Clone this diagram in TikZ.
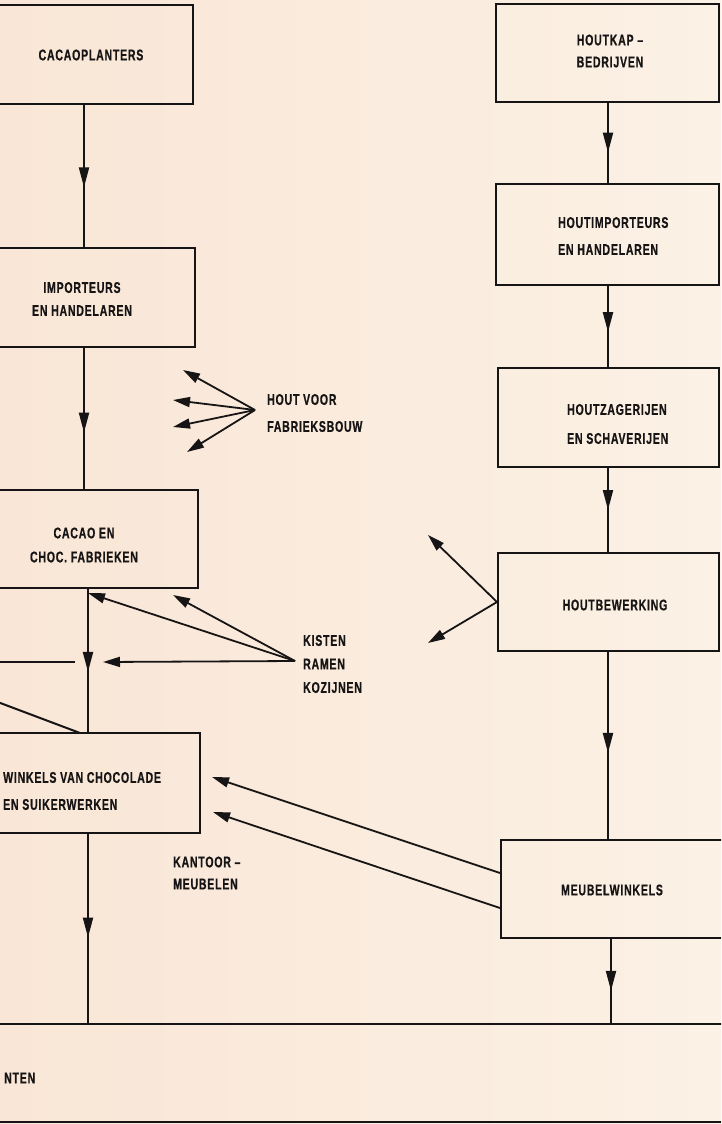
\documentclass[tikz,border=0pt]{standalone}
\usepackage{fontspec}
\newfontfamily\labfont{Liberation Sans}[FakeStretch=0.68, LetterSpace=5, FakeBold=0.6]
\usetikzlibrary{arrows.meta,decorations.markings}
\definecolor{paperL}{RGB}{249,230,214}
\definecolor{paperR}{RGB}{251,241,229}
\definecolor{ink}{RGB}{22,20,20}
\tikzset{
  box/.style={draw=ink, line width=2pt, inner sep=0pt, fill=none},
  lab/.style={inner sep=0pt, text=ink, font=\labfont\bfseries\fontsize{15.5}{24}\selectfont},
  flow/.style={draw=ink, line width=2pt},
  midarrow/.style={postaction={decorate}, decoration={markings,
     mark=at position #1 with {\arrow{Triangle[length=20pt,width=10pt]}}}},
  arr/.style={draw=ink, line width=1.8pt, -{Triangle[length=17pt,width=10pt]}},
}
\begin{document}
\begin{tikzpicture}[x=1pt,y=-1pt]
\shade[left color=paperL, right color=paperR] (0,0) rectangle (721,1124);
\useasboundingbox (0,0) rectangle (721,1124);
\clip (0,0) rectangle (721,1124);

% ---- left column boxes
\node[box, minimum width=293pt, minimum height=99pt] (cp) at (46.5,54.5) {};
\node[box, minimum width=295pt, minimum height=99pt] (imp) at (47.5,297.5) {};
\node[box, minimum width=298pt, minimum height=98pt] (fab) at (49,539) {};
\node[box, minimum width=300pt, minimum height=100pt] (win) at (50,783) {};
% ---- right column boxes
\node[box, minimum width=223pt, minimum height=98pt] (hk) at (607.5,53) {};
\node[box, minimum width=223pt, minimum height=101pt] (hi) at (607.5,234.5) {};
\node[box, minimum width=221pt, minimum height=99pt] (hz) at (608.5,417.5) {};
\node[box, minimum width=221pt, minimum height=98pt] (hb) at (608.5,602) {};
\node[box, minimum width=224pt, minimum height=98pt] (mw) at (613,889) {};

% ---- texts
\node[lab] (tcp) at (91,55) {CACAOPLANTERS};
\node[lab, align=center, font=\labfont\bfseries\fontsize{15.5}{23}\selectfont] (timp) at (82,299) {IMPORTEURS\\EN HANDELAREN};
\node[lab, align=center] (tfab) at (84,545) {CACAO EN\\CHOC. FABRIEKEN};
\node[lab, align=left, anchor=west, font=\labfont\bfseries\fontsize{15.5}{27}\selectfont] (twin) at (3,791) {WINKELS VAN CHOCOLADE\\EN SUIKERWERKEN};
\node[lab, align=center, font=\labfont\bfseries\fontsize{15.5}{22}\selectfont] (thk) at (610,51) {HOUTKAP –\\BEDRIJVEN};
\node[lab, align=left, anchor=west, font=\labfont\bfseries\fontsize{15.5}{27}\selectfont] (thi) at (558,236) {HOUTIMPORTEURS\\EN HANDELAREN};
\node[lab, align=left, anchor=west, font=\labfont\bfseries\fontsize{15.5}{29}\selectfont] (thz) at (567,424) {HOUTZAGERIJEN\\EN SCHAVERIJEN};
\node[lab] (thb) at (615,605) {HOUTBEWERKING};
\node[lab] (tmw) at (612,890) {MEUBELWINKELS};
\node[lab, align=left, anchor=west, font=\labfont\bfseries\fontsize{15.5}{27}\selectfont] (thout) at (267,413) {HOUT VOOR\\FABRIEKSBOUW};
\node[lab, align=left, anchor=west, font=\labfont\bfseries\fontsize{15.5}{23.5}\selectfont] (tkist) at (303,664) {KISTEN\\RAMEN\\KOZIJNEN};
\node[lab, align=left, anchor=west, font=\labfont\bfseries\fontsize{15.5}{22}\selectfont] (tkant) at (173,873) {KANTOOR –\\MEUBELEN};
\node[lab, anchor=west] (tnten) at (4,1078) {NTEN};

% ---- reference coordinates
\coordinate (cL1) at (84,0);
\coordinate (cL2) at (88,0);
\coordinate (cR1) at (608,0);
\coordinate (cR2) at (611,0);
\coordinate (bl1) at (-10,1024);
\coordinate (bl2) at (730,1024);
\coordinate (bb1) at (-10,1122);
\coordinate (bb2) at (730,1122);

% ---- main flows
\draw[flow, midarrow=0.58] (cp.south -| cL1) -- (imp.north -| cL1);
\draw[flow, midarrow=0.60] (imp.south -| cL1) -- (fab.north -| cL1);
\draw[flow, midarrow=0.58] (fab.south -| cL2) -- (win.north -| cL2);
\draw[flow, midarrow=0.545] (win.south -| cL2) -- (bl1 -| cL2);
\draw[flow, midarrow=0.62] (hk.south -| cR1) -- (hi.north -| cR1);
\draw[flow, midarrow=0.57] (hi.south -| cR1) -- (hz.north -| cR1);
\draw[flow, midarrow=0.50] (hz.south -| cR1) -- (hb.north -| cR1);
\draw[flow, midarrow=0.54] (hb.south -| cR1) -- (mw.north -| cR1);
\draw[flow, midarrow=0.61] (mw.south -| cR2) -- (bl1 -| cR2);
\draw[flow] (bl1) -- (bl2);
\draw[flow] (bb1) -- (bb2);

% ---- stubs entering from the left
\coordinate (s1a) at (-5,662);
\coordinate (s1b) at (75,662);
\draw[flow] (s1a) -- (s1b);
\coordinate (s2a) at (-5,701);
\coordinate (s2b) at (80,733);
\draw[flow] (s2a) -- (s2b);

% ---- hout voor fabrieksbouw
\coordinate (hsrc) at (255,410);
\coordinate (h1) at (183,370);
\coordinate (h2) at (173,400);
\coordinate (h3) at (173,427);
\coordinate (h4) at (187,452);
\foreach \t in {h1,h2,h3,h4} \draw[arr] (hsrc) -- (\t);

% ---- kisten ramen kozijnen
\coordinate (ksrc) at (295,661);
\coordinate (k1) at (88,593);
\coordinate (k2) at (173,595);
\coordinate (k3) at (103,662);
\foreach \t in {k1,k2,k3} \draw[arr] (ksrc) -- (\t);

% ---- houtbewerking outputs
\coordinate (b1) at (428,535);
\coordinate (b2) at (428,643);
\draw[arr] (hb.west) -- (b1);
\draw[arr] (hb.west) -- (b2);

% ---- kantoormeubelen
\coordinate (m1s) at (502,873);
\coordinate (m2s) at (502,908);
\coordinate (m1) at (212,777);
\coordinate (m2) at (213,812);
\draw[arr] (mw.west |- m1s) -- (m1);
\draw[arr] (mw.west |- m2s) -- (m2);
\end{tikzpicture}
\end{document}
